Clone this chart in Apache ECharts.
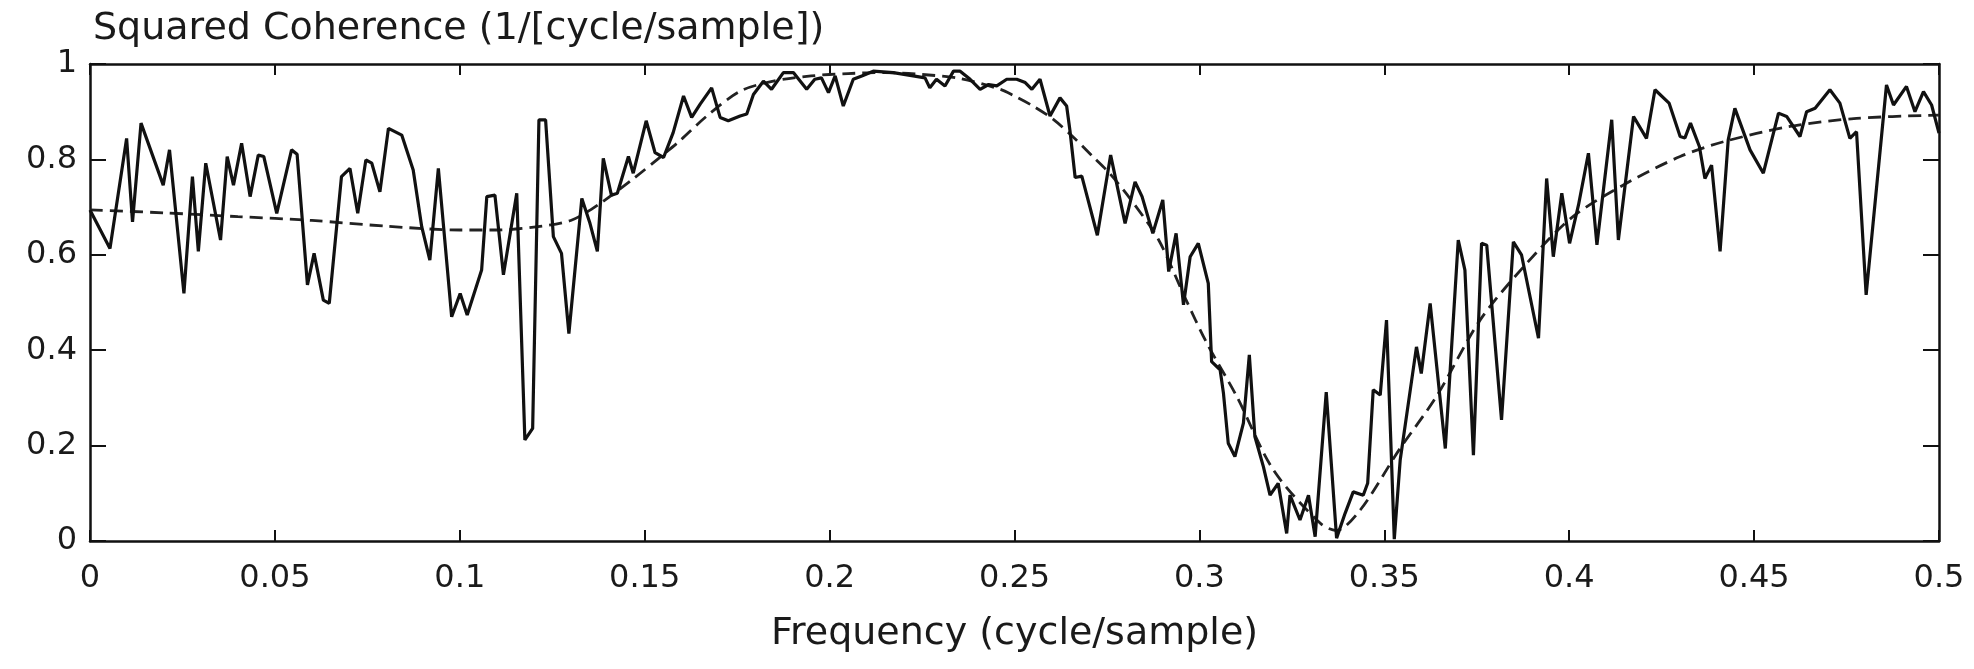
<!DOCTYPE html>
<html>
<head>
<meta charset="utf-8">
<script src="https://cdn.jsdelivr.net/npm/echarts@6/dist/echarts.min.js"></script>
<style>
  html, body { margin: 0; padding: 0; background: #fff; }
  #chart { width: 1974px; height: 669px; }
</style>
</head>
<body>
<div id="chart"></div>
<script>
// measured squared coherence (solid line)
const freq = [
  0.000, 0.0054, 0.0099, 0.0115, 0.0138, 0.0198, 0.0215, 0.0254, 0.0277, 0.0293,
  0.0313, 0.0353, 0.0371, 0.0388, 0.0410, 0.0433, 0.0455, 0.0470, 0.0505, 0.0545,
  0.0560, 0.0588, 0.0606, 0.0631, 0.0647, 0.0680, 0.0703, 0.0724, 0.0746, 0.0762,
  0.0784, 0.0807, 0.0843, 0.0874, 0.0897, 0.0919, 0.0942, 0.0978, 0.1001, 0.1020,
  0.1059, 0.1073, 0.1095, 0.1118, 0.1154, 0.1176, 0.1197, 0.1214, 0.1232, 0.1253,
  0.1275, 0.1295, 0.1330, 0.1352, 0.1372, 0.1388, 0.1410, 0.1426, 0.1456, 0.1469,
  0.1504, 0.1528, 0.1551, 0.1577, 0.1605, 0.1627, 0.1650, 0.1681, 0.1704, 0.1726,
  0.1758, 0.1776, 0.1794, 0.1821, 0.1843, 0.1875, 0.1902, 0.1938, 0.1960, 0.1978,
  0.1997, 0.2015, 0.2037, 0.2064, 0.2087, 0.2118, 0.2172, 0.2226, 0.2258, 0.2271,
  0.2289, 0.2312, 0.2335, 0.2353, 0.2380, 0.2407, 0.2430, 0.2452, 0.2479, 0.2506,
  0.2529, 0.2547, 0.2569, 0.2596, 0.2623, 0.2641, 0.2650, 0.2664, 0.2682, 0.2724,
  0.2760, 0.2799, 0.2826, 0.2845, 0.2874, 0.2901, 0.2917, 0.2937, 0.2957, 0.2975,
  0.2997, 0.3024, 0.3033, 0.3056, 0.3065, 0.3078, 0.3096, 0.3119, 0.3135, 0.3150,
  0.3173, 0.3191, 0.3213, 0.3236, 0.3245, 0.3272, 0.3295, 0.3313, 0.3343, 0.3371,
  0.3394, 0.3416, 0.3443, 0.3455, 0.3470, 0.3489, 0.3506, 0.3527, 0.3543, 0.3587,
  0.3600, 0.3624, 0.3665, 0.3700, 0.3718, 0.3741, 0.3763, 0.3777, 0.3817, 0.3849,
  0.3871, 0.3917, 0.3939, 0.3957, 0.3980, 0.4001, 0.4025, 0.4052, 0.4075, 0.4115,
  0.4133, 0.4174, 0.4209, 0.4232, 0.4270, 0.4300, 0.4313, 0.4328, 0.4352, 0.4367,
  0.4385, 0.4408, 0.4430, 0.4448, 0.4489, 0.4525, 0.4566, 0.4588, 0.4624, 0.4642,
  0.4665, 0.4705, 0.4732, 0.4759, 0.4777, 0.4803, 0.4858, 0.4877, 0.4912, 0.4935,
  0.4958, 0.4980, 0.5000
];
const coherence = [
  0.694, 0.613, 0.844, 0.669, 0.876, 0.746, 0.820, 0.519, 0.764, 0.607,
  0.792, 0.631, 0.806, 0.746, 0.834, 0.722, 0.809, 0.806, 0.687, 0.820,
  0.811, 0.537, 0.603, 0.505, 0.498, 0.764, 0.781, 0.687, 0.799, 0.792,
  0.732, 0.865, 0.851, 0.778, 0.659, 0.589, 0.781, 0.470, 0.519, 0.474,
  0.568, 0.722, 0.725, 0.558, 0.729, 0.212, 0.236, 0.883, 0.883, 0.638,
  0.603, 0.435, 0.718, 0.666, 0.607, 0.802, 0.725, 0.729, 0.806, 0.771,
  0.881, 0.814, 0.804, 0.856, 0.933, 0.888, 0.916, 0.950, 0.888, 0.881,
  0.891, 0.895, 0.936, 0.964, 0.947, 0.982, 0.982, 0.947, 0.968, 0.971,
  0.940, 0.975, 0.912, 0.968, 0.975, 0.985, 0.982, 0.975, 0.971, 0.950,
  0.968, 0.954, 0.985, 0.985, 0.968, 0.947, 0.957, 0.954, 0.968, 0.968,
  0.961, 0.947, 0.968, 0.891, 0.929, 0.912, 0.860, 0.762, 0.765, 0.641,
  0.809, 0.666, 0.753, 0.722, 0.645, 0.715, 0.565, 0.645, 0.495, 0.596,
  0.624, 0.540, 0.376, 0.359, 0.310, 0.205, 0.177, 0.247, 0.390, 0.219,
  0.156, 0.096, 0.121, 0.016, 0.096, 0.044, 0.096, 0.009, 0.312, 0.006,
  0.058, 0.103, 0.096, 0.121, 0.317, 0.306, 0.463, 0.004, 0.170, 0.407,
  0.351, 0.498, 0.194, 0.631, 0.568, 0.180, 0.624, 0.620, 0.254, 0.627,
  0.600, 0.425, 0.760, 0.596, 0.729, 0.624, 0.704, 0.813, 0.621, 0.883,
  0.631, 0.890, 0.844, 0.946, 0.918, 0.848, 0.845, 0.876, 0.827, 0.760,
  0.788, 0.607, 0.841, 0.907, 0.820, 0.771, 0.897, 0.890, 0.848, 0.900,
  0.907, 0.946, 0.918, 0.844, 0.858, 0.516, 0.956, 0.914, 0.953, 0.900,
  0.942, 0.914, 0.855
];

// theoretical coherence (dashed line)
const freqModel = [
  0, 0.02, 0.04, 0.06, 0.08, 0.10, 0.11, 0.12, 0.13, 0.138,
  0.147, 0.155, 0.1595, 0.1668, 0.1758, 0.1848, 0.195, 0.205, 0.215, 0.225,
  0.235, 0.2461, 0.2497, 0.255, 0.2605, 0.266, 0.2713, 0.2758, 0.282, 0.289,
  0.296, 0.302, 0.3101, 0.32, 0.3327, 0.337, 0.3435, 0.354, 0.3641, 0.3759,
  0.3885, 0.401, 0.4155, 0.43, 0.4417, 0.4597, 0.4777, 0.5
];
const coherenceModel = [
  0.694, 0.688, 0.680, 0.672, 0.660, 0.652, 0.652, 0.658, 0.672, 0.708,
  0.760, 0.810, 0.839, 0.891, 0.943, 0.964, 0.975, 0.980, 0.982, 0.978,
  0.970, 0.947, 0.934, 0.912, 0.884, 0.846, 0.805, 0.770, 0.710, 0.631,
  0.512, 0.415, 0.303, 0.149, 0.037, 0.022, 0.065, 0.191, 0.303, 0.463,
  0.582, 0.680, 0.750, 0.806, 0.837, 0.869, 0.886, 0.893
];

const textColor = "#1a1a1a";
const fontFamily = "DejaVu Sans";

const chart = echarts.init(document.getElementById("chart"));

// shared look for the four frame axes
function frameAxis(extra, tickLen) {
  return Object.assign({
    type: "value",
    axisLine: { show: true, onZero: false, lineStyle: { color: "#111", width: 2.5 } },
    axisTick: { show: true, inside: true, length: tickLen, lineStyle: { color: "#111", width: 2 } },
    splitLine: { show: false },
  }, extra);
}

chart.setOption({
  animation: false,
  backgroundColor: "#fff",
  title: {
    text: "Squared Coherence (1/[cycle/sample])",
    left: 88,
    top: 5,
    textStyle: { fontFamily, fontSize: 38, fontWeight: "normal", color: textColor },
  },
  grid: { left: 90, right: 35, top: 64, bottom: 128, containLabel: false, outerBoundsMode: "none" },
  xAxis: [
    frameAxis({
      position: "bottom",
      min: 0, max: 0.5, interval: 0.05,
      name: "Frequency (cycle/sample)",
      nameLocation: "middle",
      nameGap: 74,
      nameTextStyle: { fontFamily, fontSize: 38, color: textColor },
      axisLabel: { fontFamily, fontSize: 32, color: textColor, margin: 22 },
    }, 11),
    frameAxis({
      position: "top",
      min: 0, max: 0.5, interval: 0.05,
      axisLabel: { show: false },
    }, 11),
  ],
  yAxis: [
    frameAxis({
      position: "left",
      min: 0, max: 1, interval: 0.2,
      axisLabel: { fontFamily, fontSize: 32, color: textColor, margin: 13 },
    }, 16),
    frameAxis({
      position: "right",
      min: 0, max: 1, interval: 0.2,
      axisLabel: { show: false },
    }, 16),
  ],
  series: [
    {
      name: "model",
      type: "line",
      data: freqModel.map((f, i) => [f, coherenceModel[i]]),
      showSymbol: false,
      smooth: 0.3,
      lineStyle: { color: "#222", width: 2.8, type: [13, 7] },
      z: 2,
    },
    {
      name: "measured",
      type: "line",
      data: freq.map((f, i) => [f, coherence[i]]),
      showSymbol: false,
      lineStyle: { color: "#111", width: 3.2 },
      z: 3,
    },
  ],
});
</script>
</body>
</html>
